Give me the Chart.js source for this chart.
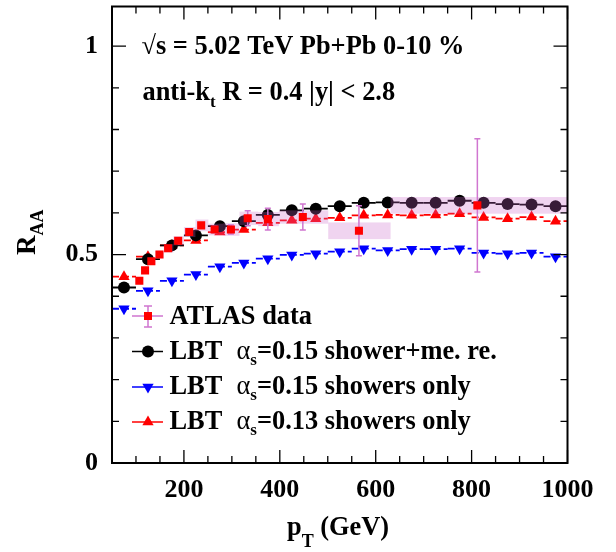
<!DOCTYPE html>
<html>
<head>
<meta charset="utf-8">
<script src="https://cdn.jsdelivr.net/npm/chart.js@4"></script>
<style>
  html, body { margin: 0; padding: 0; background: #fff; }
  #wrap { width: 616px; height: 552px; }
</style>
</head>
<body>
<div id="wrap"><canvas id="raa" width="616" height="552"></canvas></div>
<script>
/* ====== data ====== */
const modelPt   = [75,125,175,225,275,325,375,425,475,525,575,625,675,725,775,825,875,925,975];
const lbtMeRe15 = [0.421,0.489,0.522,0.546,0.568,0.580,0.595,0.606,0.610,0.616,0.624,0.625,0.624,0.624,0.629,0.624,0.621,0.620,0.616];
const lbtShw15  = [0.370,0.413,0.437,0.452,0.471,0.480,0.490,0.499,0.502,0.507,0.514,0.510,0.513,0.513,0.514,0.504,0.502,0.504,0.495];
const lbtShw13  = [0.447,0.495,0.522,0.534,0.554,0.560,0.576,0.582,0.586,0.588,0.594,0.595,0.594,0.595,0.598,0.589,0.586,0.590,0.580];
const modelHalfBin = 25;

const atlasPt   = [107,119,132,149,167,188,211,236,264,298,333,375,448,565,812];
const atlasLo   = [100,112,126,141,158,178,200,224,251,282,316,355,398,501,631];
const atlasHi   = [112,126,141,158,178,200,224,251,282,316,355,398,501,631,1000];
const atlasRaa  = [0.437,0.462,0.484,0.500,0.515,0.533,0.554,0.570,0.560,0.560,0.587,0.585,0.590,0.557,0.618];
const atlasStat = [0.004,0.004,0.004,0.004,0.004,0.005,0.005,0.006,0.008,0.011,0.018,0.026,0.031,0.060,0.160];
const atlasSys  = [0.008,0.008,0.009,0.009,0.010,0.011,0.012,0.014,0.014,0.015,0.016,0.017,0.016,0.020,0.020];

const xLabels = [200,400,600,800,1000];
const yLabels = [0,0.5,1];

/* ====== styling ====== */
const SERIF = '"Liberation Serif","Times New Roman",serif';
const VIOLET = 'rgb(208,118,208)';
const BOX = 'rgba(200,100,200,0.28)';
const BLUE = 'rgb(0,0,255)';
const RED = 'rgb(255,0,0)';
const TXT = 26.4;

const pts = (xs, ys) => xs.map((x,i)=>({x, y:ys[i]}));

/* ====== ROOT-like frame, bars, legend, texts ====== */
function rich(ctx, x, y, parts){
  parts.forEach(p=>{
    ctx.font = (p.w||'bold')+' '+p.s+'px '+SERIF;
    if(p.x!=null) x = p.x;
    ctx.fillText(p.t, x, y+(p.dy||0));
    x += ctx.measureText(p.t).width;
  });
}

function marker(ctx, style, x, y, color){
  ctx.fillStyle = color;
  ctx.beginPath();
  if(style==='circle'){ ctx.arc(x,y,6,0,Math.PI*2); }
  else if(style==='rect'){ ctx.rect(x-4,y-4,8,8); }
  else {
    const r = 6.5, s = style==='down' ? -1 : 1;
    ctx.moveTo(x, y - s*r);
    ctx.lineTo(x + r*0.866, y + s*r/2);
    ctx.lineTo(x - r*0.866, y + s*r/2);
    ctx.closePath();
  }
  ctx.fill();
}

const rootStyle = {
  id: 'rootStyle',
  beforeDatasetDraw(chart, args){
    const ds = chart.data.datasets[args.index];
    const {ctx, chartArea:a, scales:{x, y}} = chart;
    ctx.save();
    ctx.beginPath(); ctx.rect(a.left, a.top, a.right-a.left, a.bottom-a.top); ctx.clip();
    if(ds.xBar){
      ctx.strokeStyle = ds.barColor; ctx.lineWidth = 1.8;
      ctx.setLineDash(ds.dash||[]);
      ds.data.forEach(p=>{
        const py = y.getPixelForValue(p.y);
        ctx.beginPath();
        ctx.moveTo(x.getPixelForValue(p.x-modelHalfBin), py);
        ctx.lineTo(x.getPixelForValue(p.x+modelHalfBin), py);
        ctx.stroke();
      });
    }
    if(ds.atlas){
      ctx.fillStyle = BOX;
      atlasPt.forEach((_,i)=>{
        const x0 = x.getPixelForValue(atlasLo[i]), x1 = x.getPixelForValue(atlasHi[i]);
        const y0 = y.getPixelForValue(atlasRaa[i]+atlasSys[i]), y1 = y.getPixelForValue(atlasRaa[i]-atlasSys[i]);
        ctx.fillRect(x0, y0, x1-x0, y1-y0);
      });
      ctx.strokeStyle = VIOLET; ctx.lineWidth = 1.5;
      atlasPt.forEach((v,i)=>{
        const px = x.getPixelForValue(v);
        const y0 = y.getPixelForValue(atlasRaa[i]+atlasStat[i]), y1 = y.getPixelForValue(atlasRaa[i]-atlasStat[i]);
        ctx.beginPath();
        ctx.moveTo(px, y0); ctx.lineTo(px, y1);
        ctx.moveTo(px-3, y0); ctx.lineTo(px+3, y0);
        ctx.moveTo(px-3, y1); ctx.lineTo(px+3, y1);
        ctx.stroke();
      });
    }
    ctx.restore();
  },
  afterDraw(chart){
    const {ctx, chartArea:a, scales:{x, y}} = chart;
    ctx.save();
    // frame + inner ticks
    ctx.strokeStyle = '#000'; ctx.lineWidth = 2;
    ctx.strokeRect(a.left, a.top, a.right-a.left, a.bottom-a.top);
    ctx.lineWidth = 1.3;
    ctx.beginPath();
    for(let v=50; v<=1000; v+=50){
      const px = x.getPixelForValue(v), len = v%200===0 ? 13 : 7;
      ctx.moveTo(px, a.bottom); ctx.lineTo(px, a.bottom-len);
      ctx.moveTo(px, a.top); ctx.lineTo(px, a.top+len);
    }
    for(let k=0; k<=10; k++){
      const py = y.getPixelForValue(k/10), len = k%5===0 ? 14 : 7;
      ctx.moveTo(a.left, py); ctx.lineTo(a.left+len, py);
      ctx.moveTo(a.right, py); ctx.lineTo(a.right-len, py);
    }
    ctx.stroke();

    // legend
    const rows = [
      {y:316, st:'rect', c:RED, line:VIOLET},
      {y:351.5, st:'circle', c:'#000', line:'#000'},
      {y:387, st:'down', c:BLUE, line:BLUE},
      {y:422, st:'up', c:RED, line:RED}
    ];
    rows.forEach((r,i)=>{
      ctx.strokeStyle = r.line; ctx.lineWidth = 1.5;
      ctx.beginPath(); ctx.moveTo(132, r.y); ctx.lineTo(163, r.y);
      if(i===0){
        ctx.moveTo(148, r.y-10); ctx.lineTo(148, r.y+11);
        ctx.moveTo(144, r.y-10); ctx.lineTo(152, r.y-10);
        ctx.moveTo(144, r.y+11); ctx.lineTo(152, r.y+11);
      }
      ctx.stroke();
      marker(ctx, r.st, 148, r.y, r.c);
    });
    ctx.fillStyle = '#000';
    ctx.textAlign = 'left'; ctx.textBaseline = 'alphabetic';
    rich(ctx, 169.5, 323.5, [{t:'ATLAS data', s:TXT}]);
    const lbt = (yy, rest) => rich(ctx, 169.5, yy, [
      {t:'LBT', s:TXT}, {t:'α', s:TXT, w:'normal', x:236.5}, {t:'s', s:17, dy:6}, {t:rest, s:TXT}
    ]);
    lbt(358.5, '=0.15 shower+me. re.');
    lbt(394, '=0.15 showers only');
    lbt(429, '=0.13 showers only');

    // annotations
    rich(ctx, 141.5, 53.5, [{t:'√', s:TXT, w:'normal'}, {t:'s = 5.02 TeV Pb+Pb 0-10 %', s:TXT}]);
    rich(ctx, 142.5, 100, [{t:'anti-k', s:TXT}, {t:'t', s:17, dy:7}, {t:' R = 0.4 |y| < 2.8', s:TXT}]);

    // axis titles
    rich(ctx, 287, 535, [{t:'p', s:TXT}, {t:'T', s:18, dy:12}, {t:' (GeV)', s:TXT}]);
    ctx.translate(35, 255); ctx.rotate(-Math.PI/2);
    rich(ctx, 0, 0, [{t:'R', s:27}, {t:'AA', s:18, dy:8}]);
    ctx.restore();
  }
};

/* ====== chart ====== */
const tickFont = {family: SERIF, size: 26, weight: 'bold'};

new Chart(document.getElementById('raa'), {
  type: 'scatter',
  data: {
    datasets: [
      {label:'ATLAS data', data: pts(atlasPt, atlasRaa), atlas:true,
       pointStyle:'rect', pointRadius:5.7, backgroundColor:RED, pointBorderWidth:0},
      {label:'LBT αs=0.15 shower+me. re.', data: pts(modelPt, lbtMeRe15), xBar:true, barColor:'#000',
       pointStyle:'circle', pointRadius:6, backgroundColor:'#000', pointBorderWidth:0},
      {label:'LBT αs=0.15 showers only', data: pts(modelPt, lbtShw15), xBar:true, barColor:BLUE, dash:[7,3],
       pointStyle:'triangle', rotation:180, pointRadius:6.5, backgroundColor:BLUE, pointBorderWidth:0},
      {label:'LBT αs=0.13 showers only', data: pts(modelPt, lbtShw13), xBar:true, barColor:RED, dash:[7,3],
       pointStyle:'triangle', pointRadius:6.5, backgroundColor:RED, pointBorderWidth:0}
    ]
  },
  options: {
    responsive: false,
    animation: false,
    events: [],
    layout: {padding: {top: 3, right: 48.5, left: 0, bottom: 0}},
    plugins: {legend: {display: false}, tooltip: {enabled: false}},
    scales: {
      x: {
        type: 'linear', min: 50, max: 1000,
        grid: {display: false, drawTicks: false}, border: {display: false},
        afterBuildTicks: s => { s.ticks = xLabels.map(v => ({value: v})); },
        afterFit: s => { s.height = 89; s.paddingLeft = 0; s.paddingRight = 0; },
        ticks: {font: tickFont, color: '#000', padding: 12, maxRotation: 0, autoSkip: false, callback: v => String(v)}
      },
      y: {
        type: 'linear', min: 0, max: 1.095,
        grid: {display: false, drawTicks: false}, border: {display: false},
        afterBuildTicks: s => { s.ticks = yLabels.map(v => ({value: v})); },
        afterFit: s => { s.width = 112; s.paddingTop = 0; s.paddingBottom = 0; },
        ticks: {font: tickFont, color: '#000', padding: 14, autoSkip: false, callback: v => String(v)}
      }
    }
  },
  plugins: [rootStyle]
});
</script>
</body>
</html>
